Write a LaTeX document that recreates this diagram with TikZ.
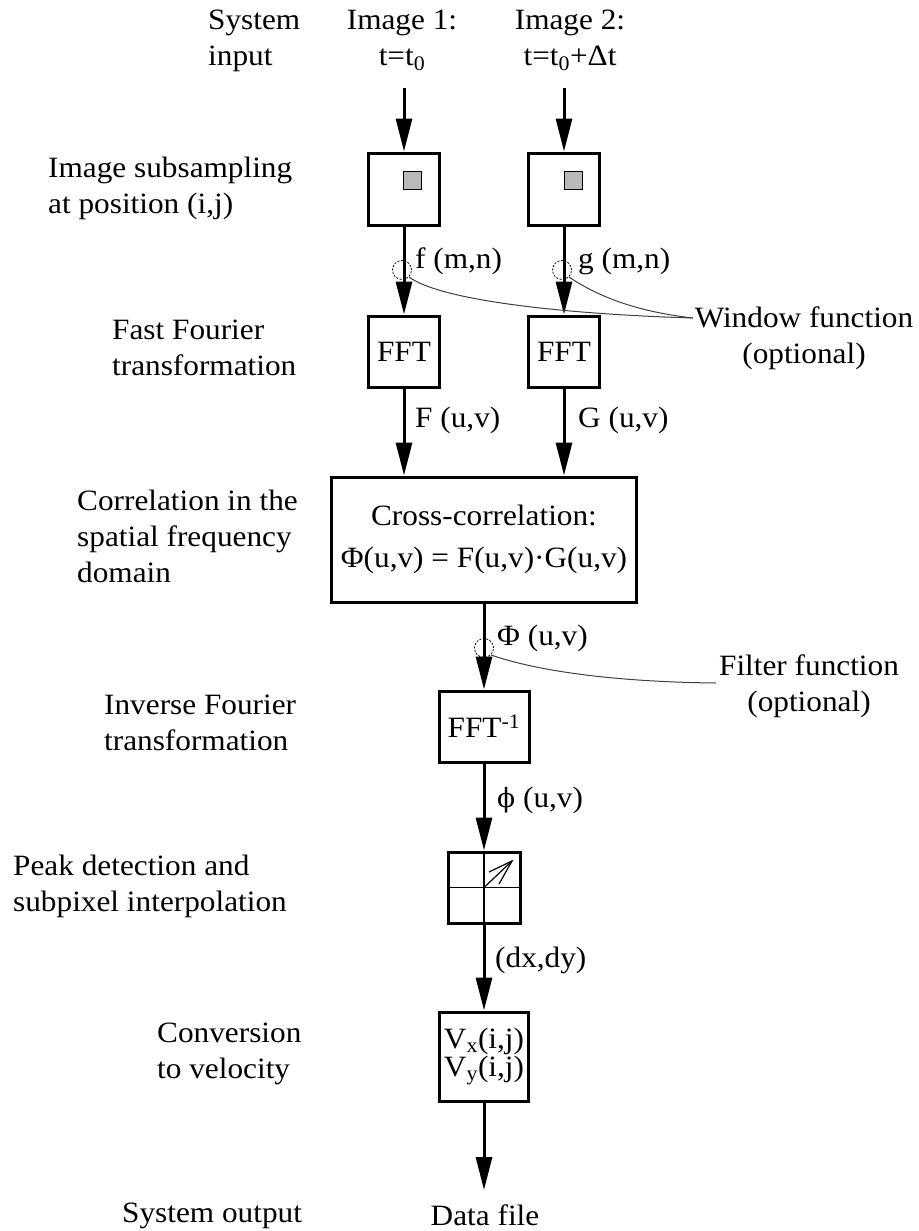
\documentclass[tikz,border=0pt]{standalone}
\usepackage{fontspec}
\setmainfont{Liberation Serif}[FakeStretch=1.06]
\newfontfamily\dejaserif{DejaVu Serif}[Scale=0.9]
\usetikzlibrary{arrows.meta}
\begin{document}
\begin{tikzpicture}[x=1pt,y=-1pt,
  every node/.style={font=\fontsize{29.5}{36}\selectfont, inner sep=0pt},
  box/.style={draw, line width=3pt, align=center},
  flow/.style={line width=3pt, -{Triangle[length=33pt,width=16pt]}},
  thinline/.style={line width=1pt, black!75},
  ring/.style={circle, draw, line width=0.8pt, dash pattern=on 2pt off 1.5pt, minimum size=19pt},
  lbl/.style={anchor=base west},
  side/.style={anchor=north west, align=left},
  grid/.style={line width=1.2pt}
]
\useasboundingbox (0,0) rectangle (918,1231);

% left column labels
\node[side] (sysin) at (208,10) {System\\input};
\node[side] (subl) at (48,157) {Image subsampling\\at position (i,j)};
\node[side] (fftl) at (112,320) {Fast Fourier\\transformation};
\node[side] (corrl) at (77,490) {Correlation in the\\spatial frequency\\domain};
\node[side] (invl) at (104,695) {Inverse Fourier\\transformation};
\node[side] (peakl) at (13,855) {Peak detection and\\subpixel interpolation};
\node[side] (convl) at (157,1023) {Conversion\\to velocity};
\node[lbl] (sysout) at (122,1222) {System output};

% inputs
\node[anchor=north, align=center] (img1) at (402,10) {Image 1:\\t=t\textsubscript{0}};
\node[anchor=north, align=center] (img2) at (570,10) {Image 2:\\t=t\textsubscript{0}+Δt};
\coordinate (in1) at (404,88);
\coordinate (in2) at (564,88);

% boxes
\node[box, minimum width=71pt, minimum height=72pt] (sub1) at (404,189) {};
\node[box, minimum width=71pt, minimum height=72pt] (sub2) at (564,189) {};
\node[draw, line width=1pt, fill=gray!55, minimum size=18pt] (sq1) at (412,180.5) {};
\node[draw, line width=1pt, fill=gray!55, minimum size=18pt] (sq2) at (573,180.5) {};
\node[box, minimum width=71pt, minimum height=71pt] (fft1) at (404,351.5) {FFT};
\node[box, minimum width=71pt, minimum height=71pt] (fft2) at (564,351.5) {FFT};
\node[box, minimum width=305pt, minimum height=125pt] (cross) at (484,539.5)
  {Cross-correlation:\\[6pt]Φ(u,v) = F(u,v)·G(u,v)};
\node[box, minimum width=90pt, minimum height=71pt] (ifft) at (484,726.5) {FFT\textsuperscript{-1}};
\node[box, minimum width=72pt, minimum height=71pt] (peak) at (484,887.5) {};
\node[box, minimum width=89pt, minimum height=89pt] (vel) at (484,1056.5)
  {V\textsubscript{x}(i,j)\\[-8pt]V\textsubscript{y}(i,j)};
\coordinate (out) at (484,1190);
\node[anchor=base] (data) at (485,1225) {Data file};

% peak box interior
\draw[grid] (peak.north) -- (peak.south);
\draw[grid] (peak.west) -- (peak.east);
\coordinate (ptip) at (512,861);
\coordinate (pb1) at (489,872);
\coordinate (pb2) at (499,884);
\draw[grid] (peak.center) -- (ptip);
\draw[grid] (pb1) -- (ptip) -- (pb2);

% connectors
\draw[flow] (in1) -- (sub1.north);
\draw[flow] (in2) -- (sub2.north);
\draw[flow] (sub1.south) -- (fft1.north);
\draw[flow] (sub2.south) -- (fft2.north);
\draw[flow] (fft1.south) -- (fft1.south |- cross.north);
\draw[flow] (fft2.south) -- (fft2.south |- cross.north);
\draw[flow] (cross.south) -- (ifft.north);
\draw[flow] (ifft.south) -- (peak.north);
\draw[flow] (peak.south) -- (vel.north);
\draw[flow] (vel.south) -- (out);

% connector labels
\node[lbl] (fmn) at (415,268) {f (m,n)};
\node[lbl] (gmn) at (578,268) {g (m,n)};
\node[lbl] (Fuv) at (415,427) {F (u,v)};
\node[lbl] (Guv) at (578,427) {G (u,v)};
\node[lbl] (Phiuv) at (497,645) {Φ (u,v)};
\node[lbl] (phiuv) at (497,807) {{\dejaserif ϕ} (u,v)};
\node[lbl] (dxdy) at (495,967) {(dx,dy)};

% window / filter functions
\node[ring] (wc1) at (402,270) {};
\node[ring] (wc2) at (562,270) {};
\node[ring] (fc) at (484,648) {};
\node[anchor=north, align=center] (winl) at (804,307) {Window function\\(optional)};
\node[anchor=north, align=center] (filtl) at (809,655) {Filter function\\(optional)};
\coordinate (wend) at (693,318);
\coordinate (fend) at (716,683);
\draw[thinline] (wc1.south east) .. controls (440,300) and (560,314) .. (wend);
\draw[thinline] (wc2.south east) .. controls (600,298) and (640,312) .. (wend);
\draw[thinline] (fc.south east) .. controls (540,672) and (620,682) .. (fend);
\end{tikzpicture}
\end{document}
